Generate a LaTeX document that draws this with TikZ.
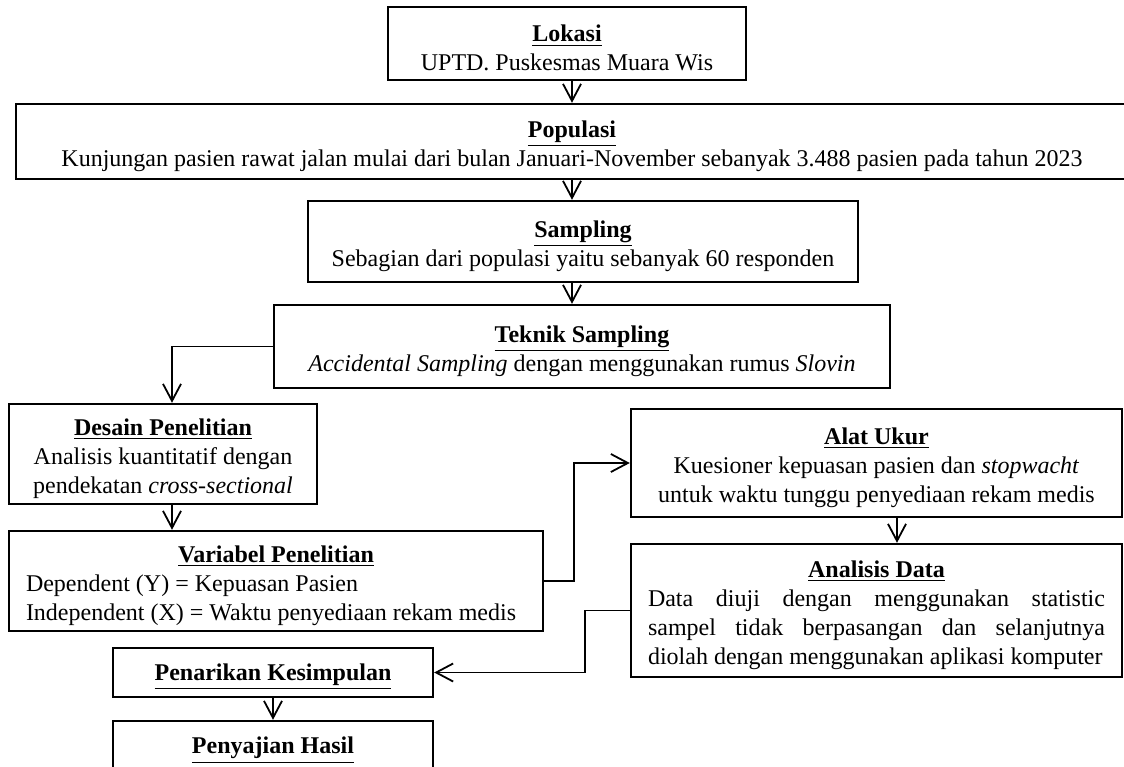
\documentclass[tikz,border=0pt]{standalone}
\usepackage{fontspec}
\setmainfont{Liberation Serif}
\usetikzlibrary{arrows.meta}
\newlength\pxl
\setlength\pxl{0.5pt}
\newcommand{\ttl}[1]{\rule{0pt}{13pt}\underline{\textbf{#1}}}

\tikzset{
  box/.style={draw, line width=1.2pt, align=center, inner sep=0pt,
    font=\fontsize{12}{14.4}\selectfont},
  arr/.style={line width=0.9pt, -{Straight Barb[length=8.5pt,width=9pt]}},
}

\begin{document}
\begin{tikzpicture}[x=\pxl, y=-\pxl]
    \clip (0,0) rectangle (1124,766);
    % upper column
    \node[box, minimum width=358\pxl, minimum height=73\pxl] (lokasi) at (567,43.5)
        {\ttl{Lokasi}\\UPTD. Puskesmas Muara Wis};
    \node[box, minimum width=1112\pxl, minimum height=75\pxl] (populasi) at (572,141.5)
        {\ttl{Populasi}\\Kunjungan pasien rawat jalan mulai dari bulan Januari-November sebanyak 3.488 pasien pada tahun 2023};
    \node[box, minimum width=550\pxl, minimum height=81\pxl] (sampling) at (583,241.5)
        {\ttl{Sampling}\\Sebagian dari populasi yaitu sebanyak 60 responden};
    \node[box, minimum width=616\pxl, minimum height=83\pxl] (teknik) at (582,346.5)
        {\ttl{Teknik Sampling}\\\textit{Accidental Sampling} dengan menggunakan rumus \textit{Slovin}};
    % left column
    \node[box, minimum width=308\pxl, minimum height=100\pxl] (desain) at (163,454)
        {\ttl{Desain Penelitian}\\Analisis kuantitatif dengan\\pendekatan \textit{cross-sectional}};
    \node[box, align=flush left, text width=500\pxl, minimum width=534\pxl, minimum height=100\pxl] (variabel) at (276,581)
        {\makebox[\linewidth][c]{\ttl{Variabel Penelitian}}\\Dependent (Y) = Kepuasan Pasien\\Independent (X) = Waktu penyediaan rekam medis};
    % right column
    \node[box, minimum width=491\pxl, minimum height=108\pxl] (alat) at (876.5,463)
        {\ttl{Alat Ukur}\\Kuesioner kepuasan pasien dan \textit{stopwacht}\\untuk waktu tunggu penyediaan rekam medis};
    \node[box, align=justify, text width=457\pxl, minimum width=491\pxl, minimum height=133\pxl] (analisis) at (876.5,610.5)
        {\makebox[\linewidth][c]{\ttl{Analisis Data}}\\Data diuji dengan menggunakan statistic\linebreak sampel tidak berpasangan dan selanjutnya\linebreak diolah dengan menggunakan aplikasi komputer};
    % bottom
    \node[box, minimum width=320\pxl, minimum height=49\pxl] (penarikan) at (273,672.5)
        {\ttl{Penarikan Kesimpulan}};
    \node[box, minimum width=320\pxl, minimum height=49\pxl] (penyajian) at (273,745.5)
        {\ttl{Penyajian Hasil}};
    \coordinate (kiri) at (172,0);
    \coordinate (kanan) at (897,0);
    % arrows
    \draw[arr] (lokasi.south -| populasi) -- (populasi.north);
    \draw[arr] (populasi.south) -- (sampling.north -| populasi);
    \draw[arr] (sampling.south -| populasi) -- (teknik.north -| populasi);
    \draw[arr] (teknik.west) -| (kiri |- desain.north);
    \draw[arr] (desain.south -| kiri) -- (variabel.north -| kiri);
    \draw[arr] (variabel.east) -- ++(30,0) |- (alat.west);
    \draw[arr] (alat.south -| kanan) -- (analisis.north -| kanan);
    \draw[arr] (analisis.west) -- ++(-45,0) |- (penarikan.east);
    \draw[arr] (penarikan.south) -- (penyajian.north);
\end{tikzpicture}
\end{document}
